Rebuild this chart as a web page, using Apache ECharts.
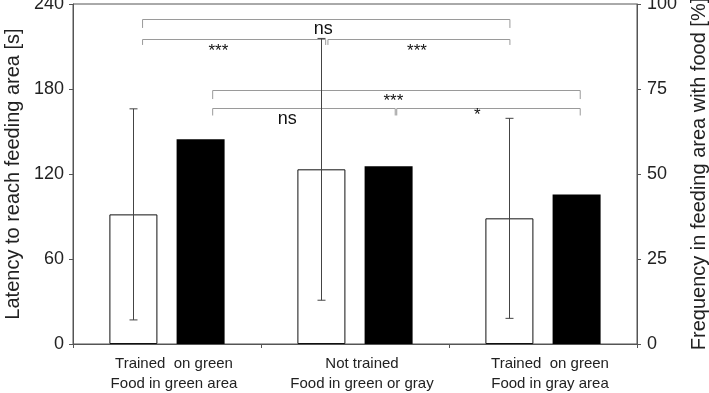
<!DOCTYPE html>
<html>
<head>
<meta charset="utf-8">
<script src="https://cdn.jsdelivr.net/npm/echarts@6/dist/echarts.min.js"></script>
<style>html,body{margin:0;padding:0;background:#fff}#c{width:709px;height:393px}</style>
</head>
<body>
<div id="c"></div>
<script>
var categories = ['Trained  on green\nFood in green area', 'Not trained\nFood in green or gray', 'Trained  on green\nFood in gray area'];
var latency = [91.5, 123.3, 88.7];
var latencyErr = [74.5, 92.4, 70.6];
var frequency = [60.2, 52.3, 44.0];
var leftTicks = [0, 60, 120, 180, 240];
var rightTicks = [0, 25, 50, 75, 100];
// significance brackets: [x start, x end] on a 0..3 category scale, y (latency units), tick bottom
var bracketX1 = [0.37, 0.37, 1.356, 0.743, 0.743, 1.722];
var bracketX2 = [2.324, 1.344, 2.324, 2.698, 1.714, 2.698];
var bracketY = [229.4, 215.1, 215.1, 179.3, 166.8, 166.8];
var bracketDrop = [223.1, 211.1, 211.1, 172.9, 161.3, 161.3];
var sigText = ['ns', '***', '***', '***', 'ns', '*'];
var sigX = [1.331, 0.773, 1.83, 1.704, 1.14, 2.15];
var sigY = [222.3, 206.5, 206.5, 171.5, 159.0, 161.5];
var sigSize = [18, 17, 17, 17, 18, 17];

var FONT = "'Liberation Sans', Arial, sans-serif";
var BAR_W = 48, BAR_GAP = 0.4;

var chart = echarts.init(document.getElementById('c'));
var bracketData = bracketX1.map(function (x1, i) { return [x1, bracketX2[i], bracketY[i], bracketDrop[i]]; });
var sigData = sigText.map(function (t, i) { return [sigX[i], sigY[i], t, sigSize[i]]; });

chart.setOption({
  animation: false,
  textStyle: { fontFamily: FONT },
  grid: { left: 73, right: 72, top: 4, bottom: 49, show: true, borderColor: '#555', borderWidth: 1,
    containLabel: false, outerBoundsMode: 'none' },
  xAxis: [{
    type: 'category', data: categories,
    axisLine: { lineStyle: { color: '#555' } },
    axisTick: { show: true, length: 4, lineStyle: { color: '#555' } },
    axisLabel: { color: '#222', fontSize: 15, lineHeight: 20, margin: 10, interval: 0,
      padding: [0, 0, 0, 14], fontFamily: FONT }
  }, {
    type: 'value', min: 0, max: 3, show: false
  }],
  yAxis: [{
    type: 'value', min: 0, max: 240, interval: 60, position: 'left',
    name: 'Latency to reach feeding area [s]', nameLocation: 'middle', nameGap: 50,
    nameTextStyle: { fontSize: 20, color: '#222', fontFamily: FONT },
    axisLine: { show: true, lineStyle: { color: '#555' } },
    axisTick: { show: true, length: 4, lineStyle: { color: '#555' } },
    axisLabel: { color: '#222', fontSize: 18, margin: 9, fontFamily: FONT },
    splitLine: { show: false }
  }, {
    type: 'value', min: 0, max: 100, interval: 25, position: 'right',
    name: 'Frequency in feeding area with food [%]', nameLocation: 'middle', nameGap: 52,
    nameTextStyle: { fontSize: 20, color: '#222', fontFamily: FONT },
    axisLine: { show: true, lineStyle: { color: '#555' } },
    axisTick: { show: true, length: 4, lineStyle: { color: '#555' } },
    axisLabel: { color: '#222', fontSize: 18, margin: 10, fontFamily: FONT },
    splitLine: { show: false }
  }],
  series: [{
    type: 'bar', name: 'Latency', data: latency, xAxisIndex: 0, yAxisIndex: 0,
    barWidth: BAR_W, barGap: (BAR_GAP * 100) + '%',
    itemStyle: { color: '#fff', borderColor: '#111', borderWidth: 1 }
  }, {
    type: 'bar', name: 'Frequency', data: frequency, xAxisIndex: 0, yAxisIndex: 1,
    barWidth: BAR_W,
    itemStyle: { color: '#000' }
  }, {
    type: 'custom', name: 'err', xAxisIndex: 0, yAxisIndex: 0, z: 5,
    data: latency.map(function (v, i) { return [i, v, latencyErr[i]]; }),
    renderItem: function (params, api) {
      var i = api.value(0), m = api.value(1), e = api.value(2);
      var off = -(BAR_W + BAR_W * BAR_GAP) / 2;
      var top = api.coord([i, m + e]), bot = api.coord([i, m - e]);
      var x = Math.round(top[0] + off) + 0.5;
      var st = { stroke: '#444', lineWidth: 1 };
      return { type: 'group', children: [
        { type: 'line', shape: { x1: x, y1: top[1], x2: x, y2: bot[1] }, style: st },
        { type: 'line', shape: { x1: x - 4, y1: top[1], x2: x + 4, y2: top[1] }, style: st },
        { type: 'line', shape: { x1: x - 4, y1: bot[1], x2: x + 4, y2: bot[1] }, style: st }
      ] };
    }
  }, {
    type: 'custom', name: 'brackets', xAxisIndex: 1, yAxisIndex: 0, z: 4,
    data: bracketData,
    renderItem: function (params, api) {
      var a = api.coord([api.value(0), api.value(2)]);
      var b = api.coord([api.value(1), api.value(2)]);
      var d = api.coord([api.value(0), api.value(3)]);
      var y = Math.round(a[1]) + 0.5, yd = d[1];
      return { type: 'polyline', shape: { points: [[a[0], yd], [a[0], y], [b[0], y], [b[0], yd]] },
        style: { stroke: '#9a9a9a', lineWidth: 1, fill: null } };
    }
  }, {
    type: 'custom', name: 'sig', xAxisIndex: 1, yAxisIndex: 0, z: 6,
    data: sigData,
    renderItem: function (params, api) {
      var p = api.coord([api.value(0), api.value(1)]);
      return { type: 'text', x: p[0], y: p[1],
        style: { text: sigText[params.dataIndex], fontSize: sigSize[params.dataIndex], fill: '#111',
          align: 'center', verticalAlign: 'middle', fontFamily: FONT } };
    }
  }]
});
</script>
</body>
</html>
